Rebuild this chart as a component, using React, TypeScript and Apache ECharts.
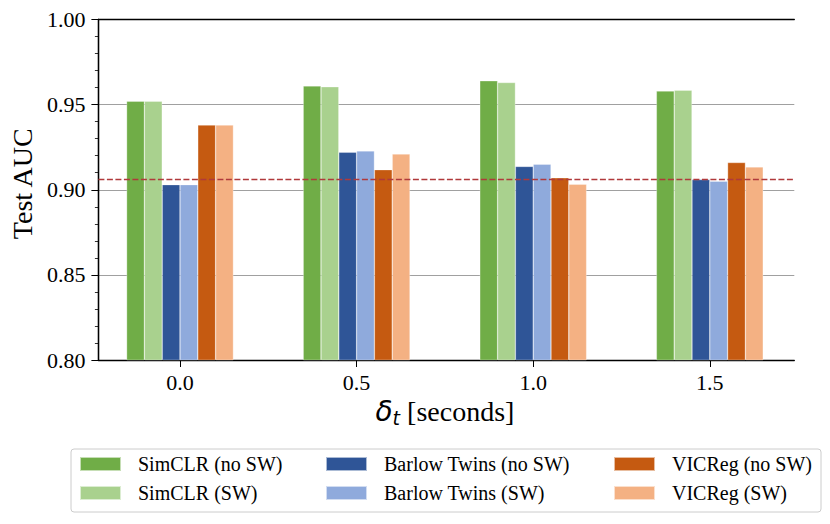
import React, { useEffect, useRef } from "react";
import * as echarts from "echarts";

const categories = ["0.0", "0.5", "1.0", "1.5"];
const seriesNames = [
  "SimCLR (no SW)",
  "SimCLR (SW)",
  "Barlow Twins (no SW)",
  "Barlow Twins (SW)",
  "VICReg (no SW)",
  "VICReg (SW)",
];
const simclrNoSW = [0.952, 0.961, 0.964, 0.958];
const simclrSW = [0.952, 0.9605, 0.963, 0.9585];
const barlowNoSW = [0.903, 0.922, 0.9137, 0.906];
const barlowSW = [0.903, 0.9228, 0.915, 0.905];
const vicregNoSW = [0.938, 0.9118, 0.907, 0.916];
const vicregSW = [0.938, 0.921, 0.9032, 0.9134];
const baseline = 0.906;
const yTicks = { min: 0.8, max: 1.0, step: 0.05 };

const seriesValues = [simclrNoSW, simclrSW, barlowNoSW, barlowSW, vicregNoSW, vicregSW];
const colors = ["#70ad47", "#a9d18e", "#2f5597", "#8faadc", "#c55a11", "#f4b183"];

const SERIF = "Liberation Serif";
const MATH = "DejaVu Sans";

export default function App() {
  const ref = useRef<HTMLDivElement>(null);
  useEffect(() => {
    if (!ref.current) return;
    const chart = echarts.init(ref.current, undefined, { renderer: "svg" });

    const plotTop = 19.5;
    const plotHeight = 340.5;

    const barSeries = seriesNames.map((name, i) => ({
      name,
      type: "bar",
      xAxisIndex: 0,
      yAxisIndex: 0,
      data: seriesValues[i],
      barWidth: 17.8,
      barGap: "0%",
      itemStyle: { color: colors[i], borderColor: "rgba(255,255,255,0.6)", borderWidth: 0.5 },
      z: 3,
    }));

    const legendCols = [79, 325, 613];
    const legendRows = [454, 483];
    const legends = seriesNames.map((name, i) => ({
      data: [name],
      left: legendCols[Math.floor(i / 2)],
      top: legendRows[i % 2],
      padding: 0,
      itemWidth: 41,
      itemHeight: 14,
      icon: "rect",
      selectedMode: false,
      textStyle: {
        fontFamily: SERIF,
        fontSize: 20,
        color: "#000",
        lineHeight: 20,
        padding: [0, 0, 0, 12],
      },
    }));

    chart.setOption({
      animation: false,
      backgroundColor: "#fff",
      textStyle: { fontFamily: SERIF },
      grid: [
        { left: 91.7, width: 706.4, top: plotTop, height: plotHeight },
        { left: 95, width: 699.3, top: plotTop, height: plotHeight },
      ],
      xAxis: [
        {
          gridIndex: 0,
          type: "category",
          data: categories,
          axisLine: { show: false },
          axisTick: { show: true, alignWithLabel: true, length: 7, lineStyle: { color: "#000", width: 1 } },
          axisLabel: { fontFamily: SERIF, fontSize: 22, color: "#000", margin: 11 },
          splitLine: { show: false },
          name: "{d|δ}{t|t}{s| [seconds]}",
          nameLocation: "middle",
          nameGap: 36,
          nameTextStyle: {
            fontFamily: SERIF,
            fontSize: 28,
            color: "#000",
            rich: {
              d: { fontFamily: MATH, fontStyle: "italic", fontSize: 28, color: "#000" },
              t: {
                fontFamily: MATH,
                fontStyle: "italic",
                fontSize: 19,
                color: "#000",
                padding: [12, 0, 0, 0],
              },
              s: { fontFamily: SERIF, fontSize: 28, color: "#000" },
            },
          },
        },
        {
          gridIndex: 1,
          type: "value",
          min: 0,
          max: 1,
          position: "bottom",
          axisLine: { show: true, lineStyle: { color: "#000", width: 1.3 } },
          axisTick: { show: false },
          axisLabel: { show: false },
          splitLine: { show: false },
        },
        {
          gridIndex: 1,
          type: "value",
          min: 0,
          max: 1,
          position: "top",
          axisLine: { show: true, lineStyle: { color: "#000", width: 1.3 } },
          axisTick: { show: false },
          axisLabel: { show: false },
          splitLine: { show: false },
        },
      ],
      yAxis: [
        { gridIndex: 0, type: "value", min: yTicks.min, max: yTicks.max, show: false },
        {
          gridIndex: 1,
          type: "value",
          min: yTicks.min,
          max: yTicks.max,
          interval: yTicks.step,
          position: "left",
          axisLine: { show: true, lineStyle: { color: "#000", width: 1.3 } },
          axisTick: { show: true, length: 7, lineStyle: { color: "#000", width: 1 } },
          minorTick: { show: true, splitNumber: 5, length: 3.5, lineStyle: { color: "#000", width: 0.8 } },
          axisLabel: {
            fontFamily: SERIF,
            fontSize: 22,
            color: "#000",
            margin: 13,
            formatter: (v: number) => v.toFixed(2),
          },
          splitLine: { show: true, lineStyle: { color: "#a0a0a0", width: 1 } },
          name: "Test AUC",
          nameLocation: "middle",
          nameGap: 59,
          nameTextStyle: { fontFamily: SERIF, fontSize: 28, color: "#000", padding: [0, 0, 0, 12] },
        },
        {
          gridIndex: 1,
          type: "value",
          min: yTicks.min,
          max: yTicks.max,
          position: "right",
          axisLine: { show: true, lineStyle: { color: "#000", width: 1.3 } },
          axisTick: { show: false },
          axisLabel: { show: false },
          splitLine: { show: false },
        },
      ],
      legend: legends,
      graphic: [
        {
          type: "rect",
          z: 0,
          shape: { x: 71, y: 449, width: 750, height: 63, r: 3 },
          style: { fill: "#fff", stroke: "#cccccc", lineWidth: 1 },
        },
      ],
      series: [
        ...barSeries,
        {
          name: "baseline",
          type: "line",
          xAxisIndex: 1,
          yAxisIndex: 1,
          data: [
            [0, baseline],
            [1, baseline],
          ],
          showSymbol: false,
          symbol: "none",
          silent: true,
          lineStyle: { color: "#b0393b", width: 1.5, type: [6, 2.5] },
          z: 4,
        },
      ],
    });
    return () => chart.dispose();
  }, []);
  return (
    <div
      ref={ref}
      style={{ position: "absolute", left: 0, top: 0, width: 830, height: 524 }}
    />
  );
}
